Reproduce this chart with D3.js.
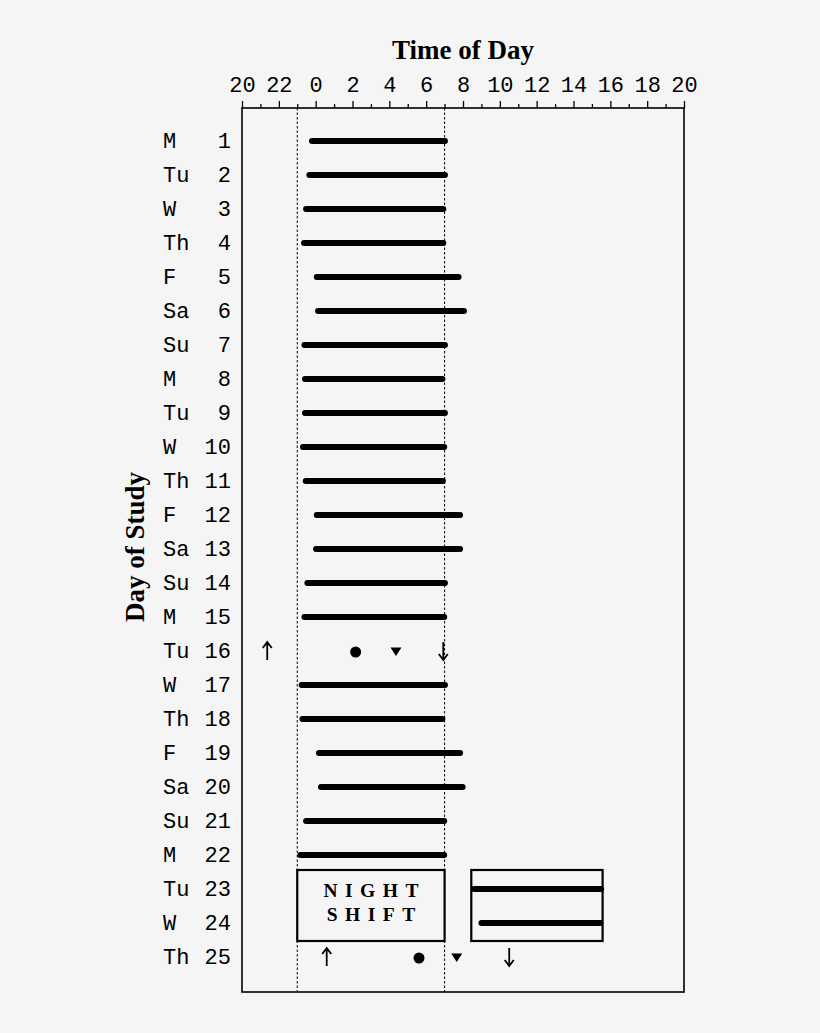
<!DOCTYPE html>
<html>
<head>
<meta charset="utf-8">
<script src="https://cdn.jsdelivr.net/npm/d3@7"></script>
<style>
  html, body { margin: 0; padding: 0; background: #f5f5f5; }
  svg { display: block; }
</style>
</head>
<body>
<svg id="chart" width="820" height="1033"></svg>
<script>
// ---- data ----
const dayAbbr = ["M","Tu","W","Th","F","Sa","Su","M","Tu","W","Th","F","Sa","Su","M","Tu","W","Th","F","Sa","Su","M","Tu","W","Th"];
const dayNum = [1,2,3,4,5,6,7,8,9,10,11,12,13,14,15,16,17,18,19,20,21,22,23,24,25];
// sleep episodes, hours relative to midnight (negative = previous evening); null = no sleep line
const sleepStart = [-0.20,-0.34,-0.52,-0.63,0.06,0.13,-0.61,-0.58,-0.58,-0.69,-0.54,0.06,0.02,-0.45,-0.61,null,-0.76,-0.72,0.18,0.29,-0.52,-0.83,8.6,9.0,null];
const sleepEnd   = [7.02,7.02,6.93,6.93,7.76,8.05,7.02,6.88,7.02,6.98,6.91,7.84,7.84,7.02,6.98,null,7.02,6.88,7.84,7.98,6.98,6.98,15.5,15.45,null];
// marker days (no sleep line): up arrow, dot, triangle, down arrow
const markerDays = [16, 25];
const upArrow   = [-2.63, 0.60];
const dotMark   = [2.17, 5.61];
const triMark   = [4.36, 7.66];
const downArrow = [6.93, 10.51];
// reference lines (23:00 and 07:00)
const refLines = [-1, 7];
// boxes: night shift (days 23-24) and day sleep box
const boxStart = [-1, 8.45];
const boxEnd   = [7, 15.58];
const boxLabel = ["NIGHT", "SHIFT"];
const majorTicks = [-4,-2,0,2,4,6,8,10,12,14,16,18,20];
const minorTicks = [-3,-1,1,3,5,7,9,11,13,15,17,19];

// ---- layout ----
const svg = d3.select("#chart");
const L = 242, R = 684, T = 108, B = 992;
const x = d3.scaleLinear().domain([-4, 20]).range([L, R]);
const y = d3.scaleLinear().domain([1, 25]).range([141, 957]);
const ink = "#000";

svg.append("rect").attr("width", 820).attr("height", 1033).attr("fill", "#f5f5f5");

// dashed reference lines
svg.selectAll("line.ref").data(refLines).enter().append("line")
  .attr("x1", d => x(d)).attr("x2", d => x(d))
  .attr("y1", T).attr("y2", B)
  .attr("stroke", ink).attr("stroke-width", 1)
  .attr("stroke-dasharray", "2.5,2");

// frame
svg.append("rect").attr("x", L).attr("y", T).attr("width", R - L).attr("height", B - T)
  .attr("fill", "none").attr("stroke", ink).attr("stroke-width", 1.6);

// axes
const axMajor = d3.axisTop(x).tickValues(majorTicks)
  .tickFormat(d => ((d + 24) % 24).toString())
  .tickSizeInner(7).tickSizeOuter(0).tickPadding(9);
const axMinor = d3.axisTop(x).tickValues(minorTicks).tickFormat("")
  .tickSizeInner(4).tickSizeOuter(0);
const gMaj = svg.append("g").attr("transform", `translate(0,${T})`).call(axMajor);
const gMin = svg.append("g").attr("transform", `translate(0,${T})`).call(axMinor);
[gMaj, gMin].forEach(g => {
  g.select(".domain").remove();
  g.selectAll(".tick line").attr("stroke", ink).attr("stroke-width", 1.3);
});
gMaj.selectAll(".tick text")
  .attr("font-family", "'Liberation Mono', monospace")
  .attr("font-size", 22).attr("fill", ink);

// titles
svg.append("text").attr("x", (L + R) / 2).attr("y", 59)
  .attr("text-anchor", "middle")
  .attr("font-family", "'Liberation Serif', 'Times New Roman', serif")
  .attr("font-weight", "bold").attr("font-size", 27).attr("fill", ink)
  .text("Time of Day");
svg.append("text").attr("transform", "translate(144,547) rotate(-90)")
  .attr("text-anchor", "middle")
  .attr("font-family", "'Liberation Serif', 'Times New Roman', serif")
  .attr("font-weight", "bold").attr("font-size", 27).attr("fill", ink)
  .text("Day of Study");

// day labels
const rows = dayNum.map((n, i) => ({ n, abbr: dayAbbr[i], s: sleepStart[i], e: sleepEnd[i] }));
svg.selectAll("text.abbr").data(rows).enter().append("text")
  .attr("x", 163).attr("y", d => y(d.n) + 7)
  .attr("font-family", "'Liberation Mono', monospace").attr("font-size", 22).attr("fill", ink)
  .text(d => d.abbr);
svg.selectAll("text.num").data(rows).enter().append("text")
  .attr("x", 231).attr("y", d => y(d.n) + 7).attr("text-anchor", "end")
  .attr("font-family", "'Liberation Mono', monospace").attr("font-size", 22).attr("fill", ink)
  .text(d => d.n);

// boxes
const boxes = boxStart.map((s, i) => ({ s, e: boxEnd[i] }));
svg.selectAll("rect.box").data(boxes).enter().append("rect")
  .attr("x", d => x(d.s)).attr("width", d => x(d.e) - x(d.s))
  .attr("y", y(23) - 19).attr("height", (y(24) + 18) - (y(23) - 19))
  .attr("fill", "#f5f5f5").attr("stroke", ink).attr("stroke-width", 2.2);

// night shift label
const bx = (x(boxStart[0]) + x(boxEnd[0])) / 2;
const ls = 7.5;
svg.selectAll("text.ns").data(boxLabel).enter().append("text")
  .attr("x", bx + ls / 2).attr("y", (d, i) => y(23) + 8 + i * 24)
  .attr("text-anchor", "middle")
  .attr("font-family", "'Liberation Serif', 'Times New Roman', serif")
  .attr("font-weight", "bold").attr("font-size", 19.5)
  .attr("letter-spacing", ls).attr("fill", ink)
  .text(d => d);

// sleep bars
svg.selectAll("line.sleep").data(rows.filter(d => d.s !== null)).enter().append("line")
  .attr("x1", d => x(d.s)).attr("x2", d => x(d.e))
  .attr("y1", d => y(d.n)).attr("y2", d => y(d.n))
  .attr("stroke", ink).attr("stroke-width", 6).attr("stroke-linecap", "round");

// markers
const marks = markerDays.map((dn, i) => ({ dn, up: upArrow[i], dot: dotMark[i], tri: triMark[i], down: downArrow[i] }));
marks.forEach(m => {
  const cy = y(m.dn);
  const ux = x(m.up);
  svg.append("path")
    .attr("d", `M${ux},${cy + 9}V${cy - 8.5}M${ux - 4.5},${cy - 3}L${ux},${cy - 9}L${ux + 4.5},${cy - 3}`)
    .attr("fill", "none").attr("stroke", ink).attr("stroke-width", 1.8);
  const dx = x(m.down);
  svg.append("path")
    .attr("d", `M${dx},${cy - 9}V${cy + 8.5}M${dx - 4.5},${cy + 3}L${dx},${cy + 9}L${dx + 4.5},${cy + 3}`)
    .attr("fill", "none").attr("stroke", ink).attr("stroke-width", 1.8);
  svg.append("circle").attr("cx", x(m.dot)).attr("cy", cy + 1).attr("r", 5.5).attr("fill", ink);
  const tx = x(m.tri);
  svg.append("path")
    .attr("d", `M${tx - 5.5},${cy - 3.5}L${tx + 5.5},${cy - 3.5}L${tx},${cy + 5}Z`)
    .attr("fill", ink);
});
</script>
</body>
</html>
